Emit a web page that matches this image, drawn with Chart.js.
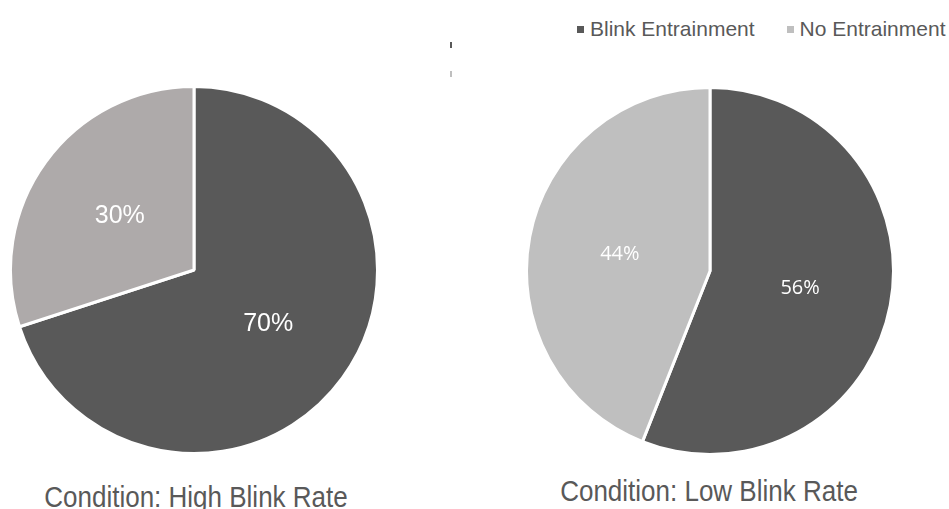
<!DOCTYPE html>
<html>
<head>
<meta charset="utf-8">
<script src="https://cdn.jsdelivr.net/npm/chart.js@4/dist/chart.umd.min.js"></script>
<style>
  html, body { margin: 0; padding: 0; background: #ffffff; }
  #stage { position: relative; width: 949px; height: 509px; overflow: hidden; font-family: "Liberation Sans", Arimo, Arial, Helvetica, sans-serif; }
  canvas { position: absolute; }
  #pieHigh { left: 9px; top: 85px; }
  #pieLow { left: 525px; top: 86px; }
  .cond { position: absolute; width: 400px; margin-left: -200px; text-align: center; font-size: 26px; line-height: 26px; color: #595959; white-space: nowrap; transform: scaleY(1.13); transform-origin: 50% 22px; }
  #legend { position: absolute; left: 577px; top: 18px; display: flex; align-items: flex-start; color: #595959; font-size: 21px; line-height: 21px; white-space: nowrap; }
  .item { display: flex; align-items: center; }
  .swatch { width: 7px; height: 7px; margin-right: 6px; margin-top: 2px; }
  .tick { position: absolute; width: 2px; height: 6px; }
</style>
</head>
<body>
<div id="stage">
  <canvas id="pieHigh" width="370" height="370"></canvas>
  <canvas id="pieLow" width="370" height="370"></canvas>
  <div id="legend"></div>
  <div class="tick" style="left:450px; top:42px; background:#595959;"></div>
  <div class="tick" style="left:450px; top:71px; background:#bfbfbf;"></div>
  <div class="cond" id="titleHigh" style="left:196px; top:485px;"></div>
  <div class="cond" id="titleLow" style="left:709px; top:479px;"></div>
</div>
<script>
// Share of trials with and without blink entrainment, per condition (%)
const categories = ['Blink Entrainment', 'No Entrainment'];
const highRateValues = [70, 30];
const lowRateValues = [56, 44];
const conditionTitles = ['Condition: High Blink Rate', 'Condition: Low Blink Rate'];

const darkGrey = '#595959';
const highColors = [darkGrey, '#aeaaaa'];
const lowColors = [darkGrey, '#bfbfbf'];
const legendColors = [darkGrey, '#bfbfbf'];

// Percentage labels placed at the middle of each slice
const sliceLabels = {
  id: 'sliceLabels',
  afterDatasetsDraw(chart, args, opts) {
    const ctx = chart.ctx;
    const meta = chart.getDatasetMeta(0);
    const values = chart.data.datasets[0].data;
    ctx.save();
    ctx.fillStyle = opts.color || '#ffffff';
    ctx.font = opts.font;
    ctx.textAlign = 'center';
    ctx.textBaseline = 'middle';
    meta.data.forEach((arc, i) => {
      const p = arc.tooltipPosition();
      ctx.fillText(values[i] + '%', p.x, p.y);
    });
    ctx.restore();
  }
};

function makePie(id, values, colors, labelFont) {
  return new Chart(document.getElementById(id), {
    type: 'pie',
    data: {
      labels: categories,
      datasets: [{
        data: values,
        backgroundColor: colors,
        borderColor: '#ffffff',
        borderWidth: 3
      }]
    },
    options: {
      responsive: false,
      animation: false,
      layout: { padding: 0 },
      plugins: {
        legend: { display: false },
        tooltip: { enabled: false },
        sliceLabels: { font: labelFont, color: '#ffffff' }
      }
    },
    plugins: [sliceLabels]
  });
}

makePie('pieHigh', highRateValues, highColors, '25px "Liberation Sans", Arimo, Arial, sans-serif');
makePie('pieLow', lowRateValues, lowColors, '20px "Open Sans", sans-serif');

document.getElementById('titleHigh').textContent = conditionTitles[0];
document.getElementById('titleLow').textContent = conditionTitles[1];

// Legend shared by both pies
const legend = document.getElementById('legend');
categories.forEach((name, i) => {
  const item = document.createElement('div');
  item.className = 'item';
  if (i > 0) item.style.marginLeft = '32px';
  const sw = document.createElement('span');
  sw.className = 'swatch';
  sw.style.background = legendColors[i];
  const tx = document.createElement('span');
  tx.textContent = name;
  item.appendChild(sw);
  item.appendChild(tx);
  legend.appendChild(item);
});
</script>
</body>
</html>
